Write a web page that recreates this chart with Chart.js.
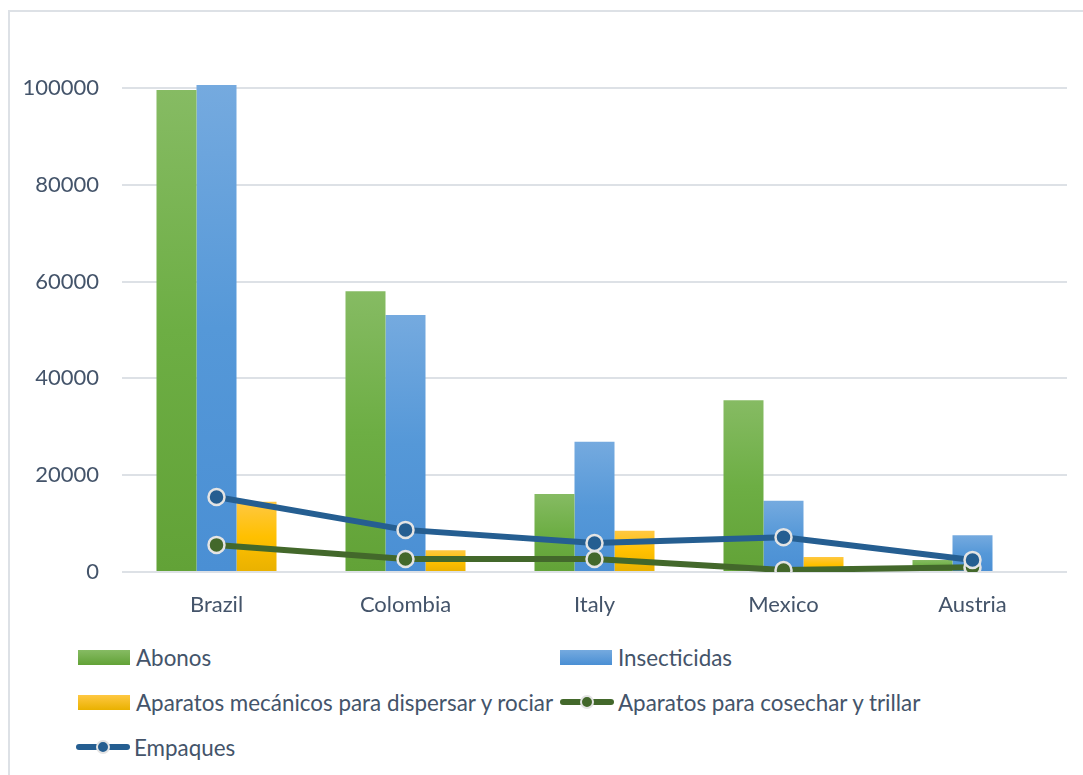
<!DOCTYPE html>
<html>
<head>
<meta charset="utf-8">
<script src="https://cdn.jsdelivr.net/npm/chart.js@4"></script>
<style>
  body { margin: 0; background: #fff; width: 1083px; height: 775px; overflow: hidden; position: relative; font-family: Lato, "Liberation Sans", sans-serif; }
  #frame { position: absolute; left: 8px; top: 10px; width: 1090px; height: 800px; border: 2px solid #dde1e6; box-sizing: border-box; }
  #chart-box { position: absolute; left: 0; top: 0; width: 1083px; height: 625px; }
  #legend { position: absolute; left: 0; top: 0; }
  .item { position: absolute; height: 24px; display: flex; align-items: center; color: #44546a; font-size: 22.4px; white-space: nowrap; }
  .swatch { width: 52px; height: 15px; margin-right: 6px; }
  .lsym { width: 54px; height: 16px; margin-right: 4px; position: relative; }
  .lsym .bar { position: absolute; left: 0; right: 0; top: 5px; height: 6px; border-radius: 3px; }
  .lsym .dot { position: absolute; left: 20px; top: 1px; width: 10px; height: 10px; border-radius: 50%; border: 2px solid #e4e4e4; }
</style>
</head>
<body>
<div id="frame"></div>
<div id="chart-box"><canvas id="chart"></canvas></div>
<div id="legend"></div>
<script>
const categories = ["Brazil", "Colombia", "Italy", "Mexico", "Austria"];
const abonos = [99600, 58000, 16100, 35500, 2500];
const insecticidas = [100600, 53100, 26900, 14700, 7600];
const mecanicos = [14500, 4500, 8500, 3100, 200];
const cosechar = [5600, 2700, 2700, 400, 1000];
const empaques = [15500, 8700, 6000, 7200, 2500];
const yTicks = [0, 20000, 40000, 60000, 80000, 100000];

const textColor = "#44546a";
const gridColor = "#dde1e6";

// vertical gradient for each bar, lighter at the top
function barGradient(top, mid, bottom) {
  return (ctx) => {
    const chart = ctx.chart;
    if (ctx.type !== "data" || !chart.chartArea || !chart.scales.y) return mid;
    const y = chart.scales.y;
    const y0 = y.getPixelForValue(ctx.raw);
    const y1 = y.getPixelForValue(0);
    if (!isFinite(y0) || y1 - y0 < 1) return mid;
    const g = chart.ctx.createLinearGradient(0, y0, 0, y1);
    g.addColorStop(0, top);
    g.addColorStop(0.5, mid);
    g.addColorStop(1, bottom);
    return g;
  };
}

const datasets = [
  { type: "bar", label: "Abonos", data: abonos, backgroundColor: barGradient("#86bb63", "#6dae44", "#62a237"), order: 3, clip: false },
  { type: "bar", label: "Insecticidas", data: insecticidas, backgroundColor: barGradient("#75aadf", "#5598d8", "#4a8fd4"), order: 3, clip: false },
  { type: "bar", label: "Aparatos mecánicos para dispersar y rociar", data: mecanicos, backgroundColor: barGradient("#ffc842", "#ffc000", "#e9b100"), order: 3, clip: false },
  { type: "line", label: "Aparatos para cosechar y trillar", data: cosechar, borderColor: "#43682b", backgroundColor: "#43682b", borderWidth: 6,
    pointRadius: 8, pointBorderWidth: 2.5, pointBorderColor: "#e4e4e4", pointBackgroundColor: "#43682b", order: 2, tension: 0 },
  { type: "line", label: "Empaques", data: empaques, borderColor: "#255e91", backgroundColor: "#255e91", borderWidth: 6,
    pointRadius: 8, pointBorderWidth: 2.5, pointBorderColor: "#e4e4e4", pointBackgroundColor: "#255e91", order: 1, tension: 0 }
];

const ctx = document.getElementById("chart").getContext("2d");
const chart = new Chart(ctx, {
  data: { labels: categories, datasets: datasets },
  options: {
    responsive: true,
    maintainAspectRatio: false,
    animation: false,
    layout: { padding: { top: 88, right: 16, left: 0, bottom: 0 } },
    datasets: { bar: { categoryPercentage: 0.635, barPercentage: 1 } },
    plugins: { legend: { display: false }, tooltip: { enabled: false } },
    scales: {
      x: {
        grid: { display: false },
        border: { display: false },
        ticks: { color: textColor, font: { family: "Lato", size: 22 }, padding: 12 },
        afterFit: (scale) => { scale.height = 53; }
      },
      y: {
        min: 0,
        max: 100000,
        afterBuildTicks: (scale) => { scale.ticks = yTicks.map((v) => ({ value: v })); },
        grid: { color: gridColor, lineWidth: 2, drawTicks: false },
        border: { display: false },
        ticks: { color: textColor, font: { family: "Lato", size: 22 }, padding: 23, callback: (v) => String(v) },
        afterFit: (scale) => { scale.width = 122; }
      }
    }
  }
});

// legend laid out in two columns like the original
const legendPos = [
  { left: 78, top: 657 }, { left: 560, top: 657 },
  { left: 78, top: 702 }, { left: 560, top: 702 },
  { left: 76, top: 747 }
];
const legend = document.getElementById("legend");
datasets.forEach((ds, i) => {
  const item = document.createElement("div");
  item.className = "item";
  item.style.left = legendPos[i].left + "px";
  item.style.top = (legendPos[i].top - 12) + "px";
  let sym;
  if (ds.type === "bar") {
    sym = document.createElement("div");
    sym.className = "swatch";
    const colors = [["#86bb63", "#62a237"], ["#75aadf", "#4a8fd4"], ["#ffc842", "#e9b100"]][i];
    sym.style.background = `linear-gradient(${colors[0]}, ${colors[1]})`;
  } else {
    sym = document.createElement("div");
    sym.className = "lsym";
    sym.innerHTML = `<div class="bar" style="background:${ds.borderColor}"></div><div class="dot" style="background:${ds.borderColor}"></div>`;
  }
  const label = document.createElement("span");
  label.textContent = ds.label;
  item.appendChild(sym);
  item.appendChild(label);
  legend.appendChild(item);
});
</script>
</body>
</html>
